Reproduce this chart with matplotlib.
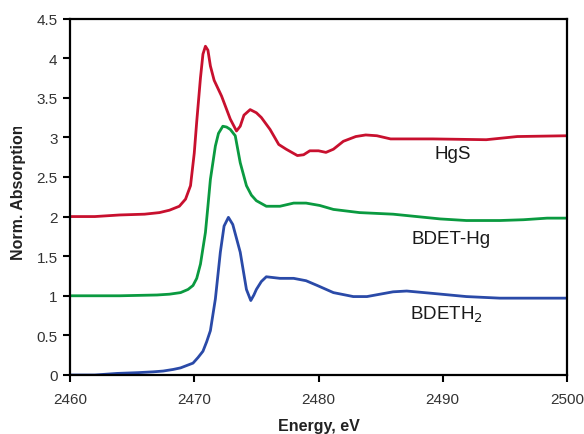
import matplotlib
matplotlib.use("Agg")
import matplotlib.pyplot as plt
from matplotlib.transforms import Bbox

plt.rcParams['font.family'] = ['Liberation Sans', 'DejaVu Sans']

# Data
hgs_e = [2460, 2462, 2464, 2466, 2467.2, 2468.0, 2468.8, 2469.3, 2469.7, 2470.0, 2470.2,
         2470.5, 2470.7, 2470.9, 2471.1, 2471.3, 2471.6, 2472.2, 2472.9, 2473.4, 2473.7,
         2474.0, 2474.5, 2475.0, 2475.4, 2476.1, 2476.8, 2477.4, 2478.3, 2478.8, 2479.3,
         2480.0, 2480.6, 2481.2, 2482.0, 2483.0, 2483.8, 2484.7, 2485.8, 2489.2, 2493.5,
         2496.0, 2500]
hgs_y = [2.00, 2.00, 2.02, 2.03, 2.05, 2.08, 2.13, 2.22, 2.39, 2.80, 3.20,
         3.75, 4.05, 4.15, 4.10, 3.90, 3.72, 3.52, 3.23, 3.08, 3.14,
         3.28, 3.35, 3.31, 3.25, 3.10, 2.91, 2.85, 2.77, 2.78, 2.83,
         2.83, 2.81, 2.85, 2.95, 3.01, 3.03, 3.02, 2.98, 2.98, 2.97,
         3.01, 3.02]

hg_e = [2460, 2464, 2467, 2468, 2468.9, 2469.5, 2469.9, 2470.2, 2470.5, 2470.9, 2471.1,
        2471.3, 2471.7, 2471.95, 2472.3, 2472.6, 2472.9, 2473.3, 2473.7, 2474.2, 2474.6,
        2475.0, 2475.8, 2476.9, 2478.0, 2479.0, 2480.1, 2481.2, 2483.3, 2486.0, 2489.8,
        2491.9, 2494.6, 2496.5, 2498.4, 2500]
hg_y = [1.00, 1.00, 1.01, 1.02, 1.04, 1.08, 1.13, 1.22, 1.40, 1.80, 2.13,
        2.47, 2.89, 3.05, 3.14, 3.13, 3.10, 3.02, 2.68, 2.39, 2.27,
        2.20, 2.13, 2.13, 2.17, 2.17, 2.14, 2.09, 2.05, 2.03, 1.97,
        1.95, 1.95, 1.96, 1.98, 1.98]

h2_e = [2460, 2462, 2463.8, 2465.5, 2466.7, 2467.5, 2468.3, 2468.9, 2469.4, 2469.9, 2470.3,
        2470.7, 2471.0, 2471.3, 2471.7, 2472.1, 2472.4, 2472.75, 2473.1, 2473.7, 2474.2,
        2474.55, 2474.8, 2475.0, 2475.4, 2475.8, 2476.9, 2478.0, 2479.0, 2479.9, 2481.2,
        2482.8, 2483.9, 2486.0, 2487.1, 2489.2, 2491.9, 2494.6, 2497.3, 2500]
h2_y = [0.00, 0.00, 0.02, 0.03, 0.04, 0.05, 0.07, 0.09, 0.12, 0.15, 0.22,
        0.30, 0.42, 0.56, 0.96, 1.55, 1.88, 1.99, 1.90, 1.55, 1.08,
        0.94, 1.01, 1.08, 1.18, 1.24, 1.22, 1.22, 1.19, 1.13, 1.04,
        0.99, 0.99, 1.05, 1.06, 1.03, 0.99, 0.97, 0.97, 0.97]

x_ticks = [2460, 2470, 2480, 2490, 2500]
y_ticks = [0, 0.5, 1, 1.5, 2, 2.5, 3, 3.5, 4, 4.5]
y_ticklabels = ['0', '0.5', '1', '1.5', '2', '2.5', '3', '3.5', '4', '4.5']

fig = plt.figure(figsize=(5.84, 4.35), dpi=100)
ax = fig.add_axes([70 / 584, 59 / 435, 497 / 584, 356.5 / 435])

ax.plot(hgs_e, hgs_y, color='#c8102e', lw=2.0, solid_joinstyle='round')
ax.plot(hg_e, hg_y, color='#0a9a40', lw=2.0, solid_joinstyle='round')
ax.plot(h2_e, h2_y, color='#2a4aa8', lw=2.0, solid_joinstyle='round')

ax.set_xlim(2460, 2500)
ax.set_ylim(0, 4.5)
ax.set_xticks(x_ticks)
ax.set_xticklabels([str(t) for t in x_ticks])
ax.set_yticks(y_ticks)
ax.set_yticklabels(y_ticklabels)
ax.tick_params(direction='out', length=5, width=1.5, labelsize=11,
               labelcolor='#333333', top=False, right=False, color='black')
ax.tick_params(axis='x', pad=7)
ax.tick_params(axis='y', pad=4)
for s in ax.spines.values():
    s.set_linewidth(1.6)
    s.set_color('black')

ax.set_xlabel('Energy, eV', fontsize=11.5, fontweight='bold', color='#222222', labelpad=9)

yl = fig.text(19 / 584, 1 - 192 / 435, 'Norm. Absorption', rotation=90,
              ha='center', va='center', fontsize=11.5, fontweight='bold', color='#222222')
yl.set_clip_box(Bbox([[0, 0], [584, 435 - 128]]))
yl.set_clip_on(True)

ax.text(2490.8, 2.79, 'HgS', fontsize=13.5, ha='center', va='center', color='#1a1a1a')
ax.text(2490.7, 1.72, 'BDET-Hg', fontsize=13.5, ha='center', va='center', color='#1a1a1a')
ax.text(2490.3, 0.77, r'BDETH$_2$', fontsize=13.5, ha='center', va='center', color='#1a1a1a')

fig.savefig('out.png', dpi=100)
